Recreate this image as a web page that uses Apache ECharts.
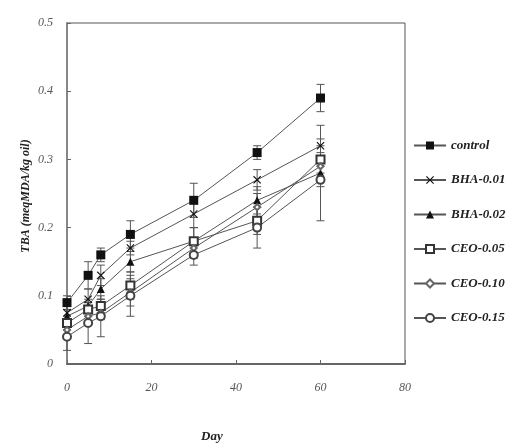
<!DOCTYPE html>
<html>
<head>
<meta charset="utf-8">
<script src="https://cdn.jsdelivr.net/npm/echarts@6/dist/echarts.min.js"></script>
<style>
  html, body { margin: 0; padding: 0; background: #fff; }
  #main { width: 513px; height: 448px; }
</style>
</head>
<body>
<div id="main"></div>
<script>
// sampling days
var days = [0, 5, 8, 15, 30, 45, 60];

// TBA values per treatment
var control = [0.09, 0.13, 0.16, 0.19, 0.24, 0.31, 0.39];
var bha01 = [0.075, 0.095, 0.13, 0.17, 0.22, 0.27, 0.32];
var bha02 = [0.07, 0.085, 0.11, 0.15, 0.18, 0.24, 0.28];
var ceo05 = [0.06, 0.08, 0.085, 0.115, 0.18, 0.21, 0.30];
var ceo10 = [0.05, 0.07, 0.075, 0.105, 0.17, 0.23, 0.29];
var ceo15 = [0.04, 0.06, 0.07, 0.10, 0.16, 0.20, 0.27];

// error bars (+/-)
var controlErr = [0.01, 0.02, 0.01, 0.02, 0.025, 0.01, 0.02];
var bha01Err = [0.01, 0.015, 0.015, 0.01, 0.02, 0.015, 0.03];
var bha02Err = [0.01, 0.01, 0.015, 0.015, 0.02, 0.02, 0.02];
var ceo05Err = [0.01, 0.01, 0.01, 0.02, 0.02, 0.02, 0.02];
var ceo10Err = [0.01, 0.01, 0.01, 0.02, 0.015, 0.02, 0.02];
var ceo15Err = [0.02, 0.03, 0.03, 0.03, 0.015, 0.03, 0.06];

var xTicks = [0, 20, 40, 60, 80];
var yTicks = [0, 0.1, 0.2, 0.3, 0.4, 0.5];

var names = ['control', 'BHA-0.01', 'BHA-0.02', 'CEO-0.05', 'CEO-0.10', 'CEO-0.15'];
var values = [control, bha01, bha02, ceo05, ceo10, ceo15];
var errors = [controlErr, bha01Err, bha02Err, ceo05Err, ceo10Err, ceo15Err];
var symbols = [
    'rect',
    'path://M0,1 L1,0 L5,4 L9,0 L10,1 L6,5 L10,9 L9,10 L5,6 L1,10 L0,9 L4,5 Z',
    'triangle',
    'emptyRect',
    'emptyDiamond',
    'emptyCircle'
];
var sizes = [9, 8, 8, 8, 6, 8];
var markColors = ['#111', '#111', '#111', '#333', '#666', '#444'];

var serif = '"Liberation Serif", "DejaVu Serif", serif';

var series = [];
values.forEach(function (vals, i) {
    var errs = errors[i];
    // error bars first so markers sit on top
    series.push({
        type: 'custom',
        silent: true,
        z: 1,
        data: days.map(function (d, k) { return [d, vals[k] - errs[k], vals[k] + errs[k]]; }),
        renderItem: function (params, api) {
            var lo = api.coord([api.value(0), api.value(1)]);
            var hi = api.coord([api.value(0), api.value(2)]);
            var w = 4;
            var st = { stroke: '#555', lineWidth: 1 };
            return {
                type: 'group',
                children: [
                    { type: 'line', shape: { x1: lo[0], y1: lo[1], x2: hi[0], y2: hi[1] }, style: st },
                    { type: 'line', shape: { x1: lo[0] - w, y1: lo[1], x2: lo[0] + w, y2: lo[1] }, style: st },
                    { type: 'line', shape: { x1: hi[0] - w, y1: hi[1], x2: hi[0] + w, y2: hi[1] }, style: st }
                ]
            };
        }
    });
    series.push({
        name: names[i],
        type: 'line',
        z: 2,
        data: days.map(function (d, k) { return [d, vals[k]]; }),
        symbol: symbols[i],
        symbolSize: sizes[i],
        showAllSymbol: true,
        lineStyle: { color: '#555', width: 1 },
        itemStyle: { color: markColors[i], borderWidth: i >= 3 ? 1.2 : 0 }
    });
});

var myChart = echarts.init(document.getElementById('main'));

var axisText = { fontFamily: serif, fontStyle: 'italic', fontSize: 12, color: '#555' };

var option = {
    backgroundColor: '#fff',
    animation: false,
    grid: {
        left: 67, right: 108, top: 23, bottom: 84,
        show: true, borderColor: '#555', borderWidth: 1
    },
    legend: {
        data: names,
        orient: 'vertical',
        left: 408,
        top: 134,
        itemWidth: 32,
        itemHeight: 10,
        itemGap: 21.5,
        textStyle: { fontFamily: serif, fontStyle: 'italic', fontWeight: 'bold', fontSize: 13, color: '#222' }
    },
    xAxis: {
        type: 'value',
        min: 0, max: 80, interval: 20,
        axisLine: { lineStyle: { color: '#666', width: 2 } },
        axisTick: { inside: true, length: 4, lineStyle: { color: '#666' } },
        axisLabel: Object.assign({ margin: 18, formatter: function (v) { return xTicks.indexOf(v) >= 0 ? String(v) : ''; } }, axisText),
        splitLine: { show: false }
    },
    yAxis: {
        type: 'value',
        min: 0, max: 0.5, interval: 0.1,
        axisLine: { show: true, lineStyle: { color: '#888', width: 2 } },
        axisTick: { show: true, inside: true, length: 4, lineStyle: { color: '#666' } },
        axisLabel: Object.assign({ margin: 14, formatter: function (v) {
            var t = yTicks.find(function (y) { return Math.abs(y - v) < 1e-9; });
            return t === 0 ? '0' : String(t);
        } }, axisText),
        splitLine: { show: false }
    },
    graphic: [
        {
            type: 'text',
            left: 201, top: 430,
            style: { text: 'Day', font: 'italic bold 13px ' + serif, fill: '#222' }
        },
        {
            type: 'text',
            x: 26, y: 196,
            rotation: Math.PI / 2,
            style: {
                text: 'TBA (meqMDA/kg oil)',
                font: 'italic bold 12px ' + serif,
                fill: '#222',
                align: 'center',
                verticalAlign: 'middle'
            }
        }
    ],
    series: series
};

myChart.setOption(option);
</script>
</body>
</html>
